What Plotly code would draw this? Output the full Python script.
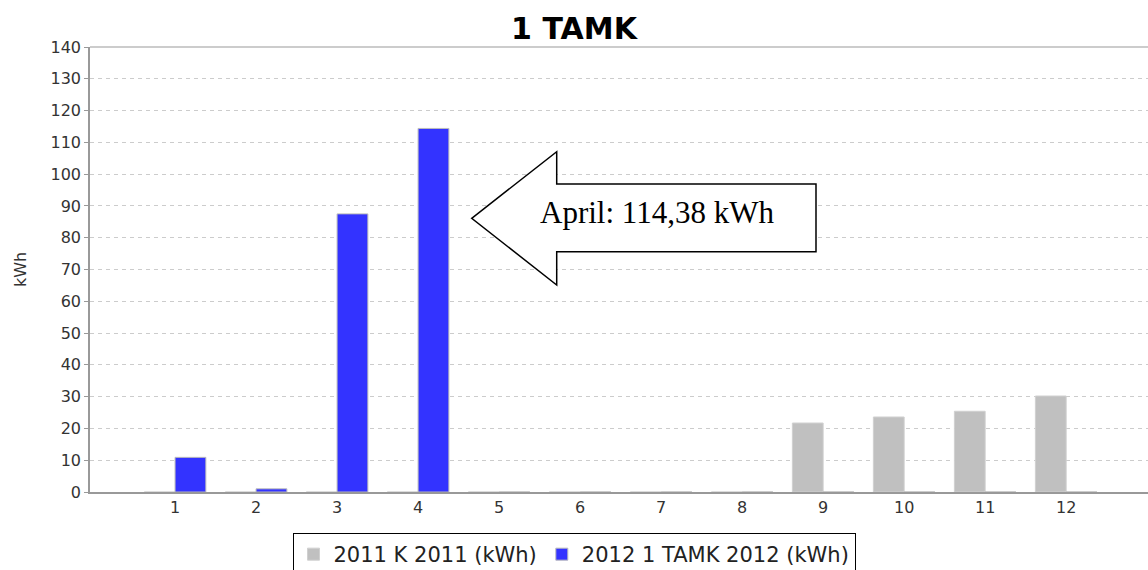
import plotly.graph_objects as go

months = [1, 2, 3, 4, 5, 6, 7, 8, 9, 10, 11, 12]
kwh_2011 = [0, 0, 0, 0, 0, 0, 0, 0, 21.7, 23.6, 25.4, 30.2]
kwh_2012 = [10.9, 1.0, 87.5, 114.38, 0, 0, 0, 0, 0, 0, 0, 0]
y_ticks = list(range(0, 141, 10))
name_2011 = "2011 K 2011 (kWh)"
name_2012 = "2012 1 TAMK 2012 (kWh)"
title_text = "1 TAMK"
note_text = "April: 114,38 kWh"

W, H = 1148, 570
ML, MR, MT, MB = 90, 0, 47, 78
PW, PH = W - ML - MR, H - MT - MB

def px(x):
    return (x - ML) / PW

def py(y):
    return (H - MB - y) / PH

BW = 0.38
fig = go.Figure()
fig.add_trace(go.Bar(x=months, y=kwh_2011, name=name_2011, width=BW, offset=-BW,
                     marker=dict(color="#C0C0C0", line=dict(color="#D0D0D0", width=1))))
fig.add_trace(go.Bar(x=months, y=kwh_2012, name=name_2012, width=BW, offset=0,
                     marker=dict(color="#3333FF", line=dict(color="#BBBBBB", width=1))))

# arrow callout (pixel-positioned decoration)
pts = [(471.7, 218.3), (556.7, 151.7), (556.7, 184), (816, 184),
       (816, 251.7), (556.7, 251.7), (556.7, 285)]
path = "M " + " L ".join(f"{px(a):.5f},{py(b):.5f}" for a, b in pts) + " Z"
fig.add_shape(type="path", xref="paper", yref="paper", path=path,
              fillcolor="white", line=dict(color="black", width=1.5), layer="above")
fig.add_annotation(xref="paper", yref="paper", x=px(657), y=py(212), text=note_text,
                   showarrow=False, font=dict(family="Liberation Serif", size=31, color="black"))

fig.update_layout(
    width=W, height=H,
    margin=dict(l=ML, r=MR, t=MT, b=MB, autoexpand=False),
    paper_bgcolor="white", plot_bgcolor="white",
    barmode="overlay",
    title=dict(text=f"<b>{title_text}</b>", x=0.5, xref="container", xanchor="center",
               y=1 - 28 / H, yref="container", yanchor="middle",
               font=dict(family="DejaVu Sans", size=30, color="black")),
    font=dict(family="DejaVu Sans", color="#333333"),
    showlegend=True,
    legend=dict(orientation="h", xref="container", yref="container", x=0.5, xanchor="center",
                y=1 - 533 / H, yanchor="top", bordercolor="black", borderwidth=1,
                font=dict(family="DejaVu Sans", size=21, color="#222222"),
                itemwidth=30, tracegroupgap=0, bgcolor="white"),
    xaxis=dict(range=[-0.05, 13.01], tickmode="array", tickvals=months,
               ticktext=[str(m) for m in months], showgrid=False, zeroline=False,
               showline=True, linecolor="#999999", linewidth=1.5, mirror=False,
               ticks="", tickfont=dict(size=16, color="#333333"), automargin=False),
    yaxis=dict(range=[0, 140], tickmode="array", tickvals=y_ticks, showgrid=True,
               gridcolor="#CCCCCC", griddash="4px,4px", gridwidth=1, zeroline=False,
               showline=True, linecolor="#999999", linewidth=1.5,
               ticks="outside", ticklen=4, tickcolor="#999999",
               tickfont=dict(size=16, color="#333333"), automargin=False,
               title=dict(text="kWh", font=dict(size=16, color="#333333"), standoff=20)),
)
# top outline of plot area
fig.add_shape(type="line", xref="paper", yref="paper", x0=0, x1=1, y0=1, y1=1,
              line=dict(color="#BBBBBB", width=1.5), layer="below")

fig.write_html("out.html", config={"displayModeBar": False},
               post_script="document.body.style.margin='0';document.body.style.overflow='hidden';")
